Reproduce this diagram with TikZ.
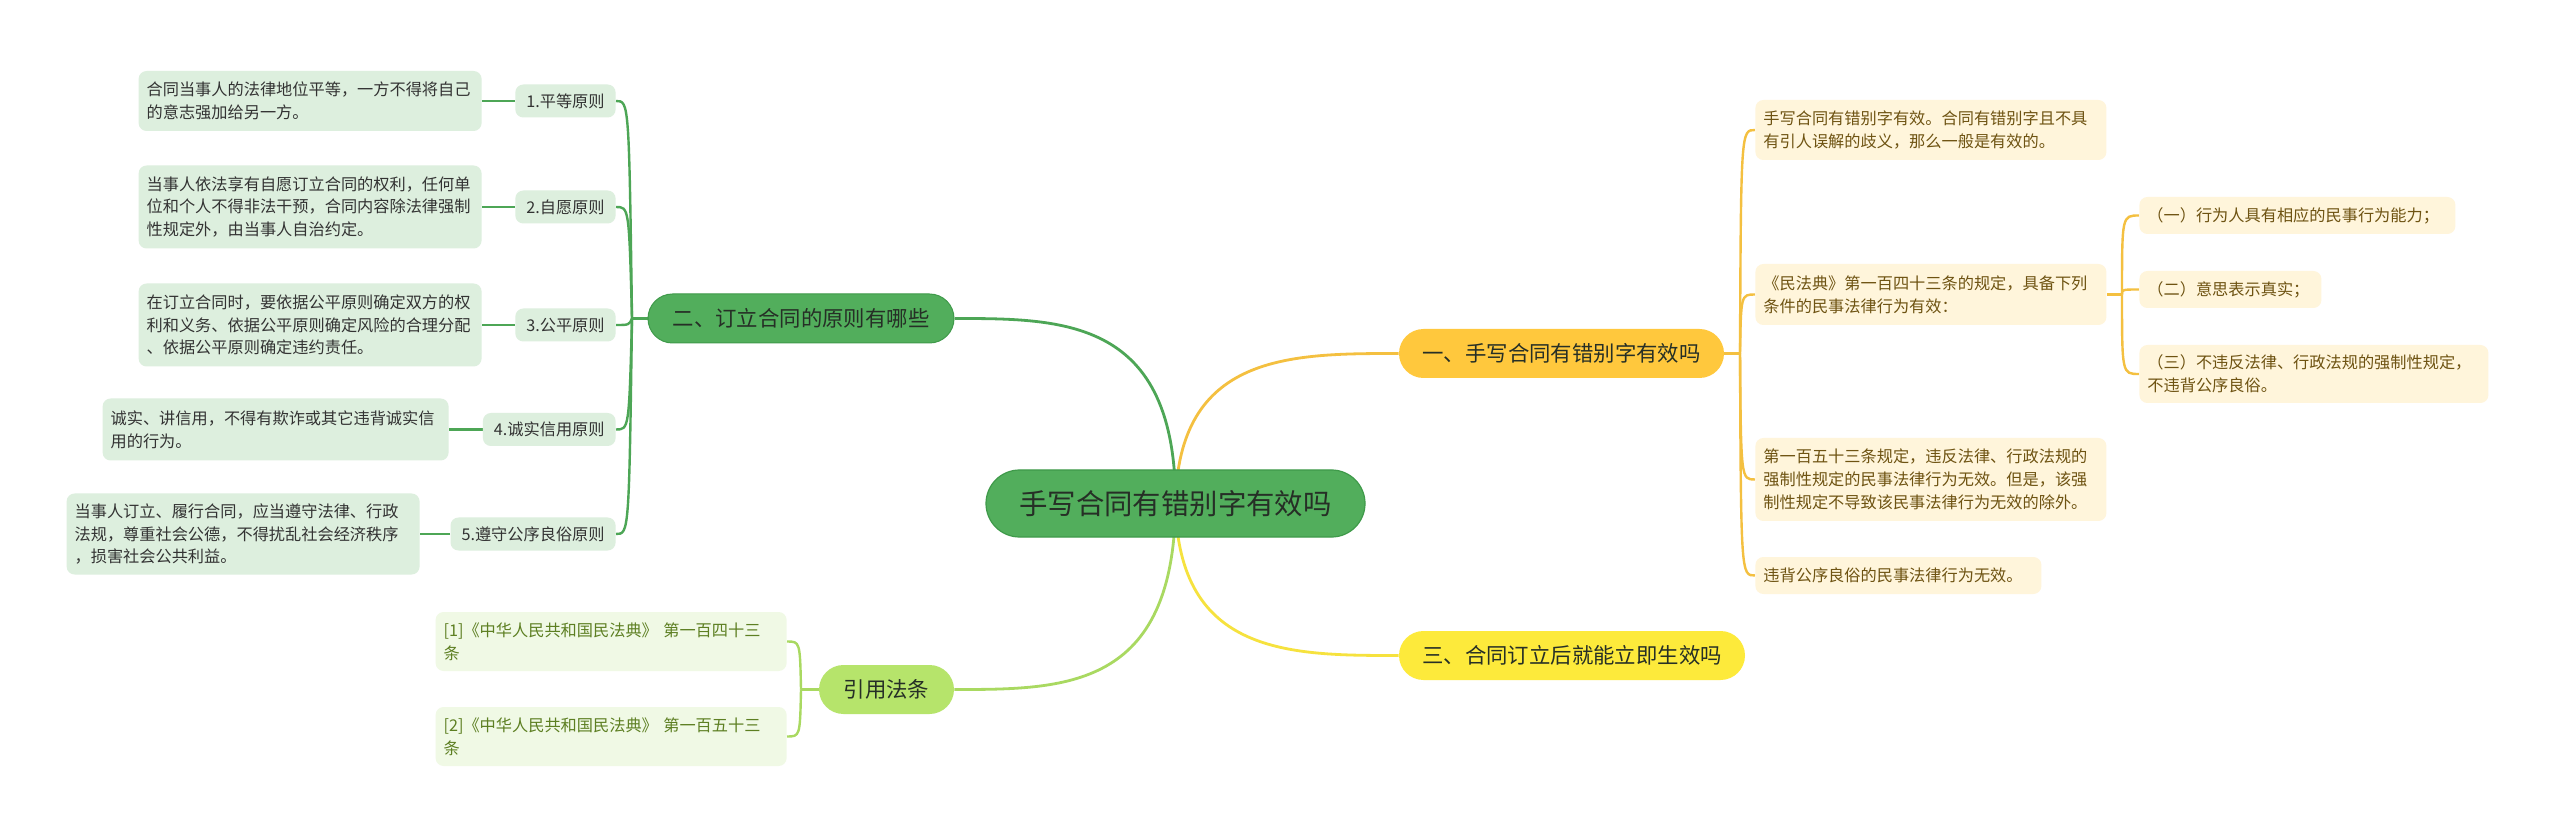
\documentclass[tikz,border=0pt]{standalone}
\usepackage{fontspec}
\setmainfont{Noto Sans CJK SC}
\usetikzlibrary{calc}
\pgfdeclarelayer{bg}
\pgfsetlayers{bg,main}
\definecolor{gmain}{HTML}{52AE5C}
\definecolor{gborder}{HTML}{3F9A4A}
\definecolor{gline}{HTML}{4DA656}
\definecolor{lfill}{HTML}{DDEFDE}
\definecolor{ltext}{HTML}{333333}
\definecolor{amber}{HTML}{FFC83D}
\definecolor{aline}{HTML}{F4C040}
\definecolor{rfill}{HTML}{FFF5DB}
\definecolor{rtext}{HTML}{6E5312}
\definecolor{ymain}{HTML}{FDEA3B}
\definecolor{yline}{HTML}{F6E23E}
\definecolor{lime}{HTML}{B6E46B}
\definecolor{limeline}{HTML}{A9D961}
\definecolor{cfill}{HTML}{F0F9E5}
\definecolor{ctext}{HTML}{5D7F22}
\definecolor{dtext}{HTML}{262F26}
\begin{document}
\begin{tikzpicture}[x=0.5pt,y=-0.5pt,
  base/.style={inner xsep=4pt, inner ysep=0pt, align=left, font=\fontsize{8.1}{11.4}\selectfont, rounded corners=4pt},
  lbox/.style={base, fill=lfill, text=ltext, anchor=east},
  rbox/.style={base, fill=rfill, text=rtext, anchor=west},
  cbox/.style={base, fill=cfill, text=ctext, anchor=east},
  llab/.style={base, fill=lfill, text=ltext, align=center, inner xsep=5.5pt, minimum height=16.5pt, anchor=east},
  slab/.style={base, fill=rfill, text=rtext, anchor=west},
  pill/.style={rounded corners=12.25pt, minimum height=24.5pt, inner sep=0pt, font=\fontsize{10.7}{12}\selectfont, text=dtext},
  mline/.style={line width=1.4pt},
  sline/.style={line width=1.2pt}
]
\useasboundingbox (0,0) rectangle (2560,839);

% central node
\node[rounded corners=16.75pt, minimum width=189.5pt, minimum height=33.5pt, inner sep=0pt,
  fill=gmain, draw=gborder, line width=0.6pt, text=dtext, font=\fontsize{14.2}{16}\selectfont]
  (ctr) at (1175.5,503.5) {手写合同有错别字有效吗};

% main branches
\node[pill, minimum width=153pt, fill=gmain, draw=gborder, line width=0.5pt] (n2) at (801,318.5) {二、订立合同的原则有哪些};
\node[pill, minimum width=162.5pt, fill=amber] (n1) at (1561.5,353.5) {一、手写合同有错别字有效吗};
\node[pill, minimum width=173pt, fill=ymain] (n3) at (1572,655.5) {三、合同订立后就能立即生效吗};
\node[pill, minimum width=67.5pt, fill=lime] (cite) at (886.5,689.5) {引用法条};

% left labels
\node[llab] (L1) at (616,101) {1.平等原则};
\node[llab] (L2) at (616,207) {2.自愿原则};
\node[llab] (L3) at (616,325) {3.公平原则};
\node[llab] (L4) at (616,429.5) {4.诚实信用原则};
\node[llab] (L5) at (616,534) {5.遵守公序良俗原则};

% left text boxes
\node[lbox, text width=163.5pt, minimum height=30pt] (B1) at (482,101) {合同当事人的法律地位平等，一方不得将自己\\的意志强加给另一方。};
\node[lbox, text width=163.5pt, minimum height=41.5pt] (B2) at (482,207) {当事人依法享有自愿订立合同的权利，任何单\\位和个人不得非法干预，合同内容除法律强制\\性规定外，由当事人自治约定。};
\node[lbox, text width=163.5pt, minimum height=41.5pt] (B3) at (482,325) {在订立合同时，要依据公平原则确定双方的权\\利和义务、依据公平原则确定风险的合理分配\\、依据公平原则确定违约责任。};
\node[lbox, text width=165pt, minimum height=31pt] (B4) at (449,429.5) {诚实、讲信用，不得有欺诈或其它违背诚实信\\用的行为。};
\node[lbox, text width=168.5pt, minimum height=40.5pt] (B5) at (420,534) {当事人订立、履行合同，应当遵守法律、行政\\法规，尊重社会公德，不得扰乱社会经济秩序\\，损害社会公共利益。};

% right text boxes
\node[rbox, text width=167.5pt, minimum height=30pt] (R1) at (1755,130) {手写合同有错别字有效。合同有错别字且不具\\有引人误解的歧义，那么一般是有效的。};
\node[rbox, text width=167.5pt, minimum height=30.5pt] (R2) at (1755,294.5) {《民法典》第一百四十三条的规定，具备下列\\条件的民事法律行为有效：};
\node[rbox, text width=167.5pt, minimum height=41.5pt] (R3) at (1755,479.5) {第一百五十三条规定，违反法律、行政法规的\\强制性规定的民事法律行为无效。但是，该强\\制性规定不导致该民事法律行为无效的除外。};
\node[rbox, text width=135pt, minimum height=18.5pt] (R4) at (1755,575.5) {违背公序良俗的民事法律行为无效。};

% sub items
\node[slab, text width=150pt, minimum height=18.5pt] (S1) at (2139,215.5) {（一）行为人具有相应的民事行为能力；};
\node[slab, text width=83pt, minimum height=18.5pt] (S2) at (2139,289.5) {（二）意思表示真实；};
\node[slab, text width=166.5pt, minimum height=29pt] (S3) at (2139,374) {（三）不违反法律、行政法规的强制性规定，\\不违背公序良俗。};

% citations
\node[cbox, text width=167.5pt, minimum height=29.5pt] (C1) at (787,641.5) {[1]《中华人民共和国民法典》~第一百四十三\\条};
\node[cbox, text width=167.5pt, minimum height=29.5pt] (C2) at (787,736.5) {[2]《中华人民共和国民法典》~第一百五十三\\条};

% junctions
\coordinate (j2) at (632,318.5);
\coordinate (j1) at (1740,353.5);
\coordinate (jk) at (2122,294.5);
\coordinate (jc) at (801,689.5);

\begin{pgfonlayer}{bg}
\fill[white] (0,0) rectangle (2560,839);
% main curves
\draw[mline, gline] (ctr.center) .. controls (1176,318.5) and (1064,318.5) .. (n2.east);
\draw[mline, aline] (ctr.center) .. controls (1178,353.5) and (1290,353.5) .. (n1.west);
\draw[mline, yline] (ctr.center) .. controls (1178,655.5) and (1290,655.5) .. (n3.west);
\draw[mline, limeline] (ctr.center) .. controls (1174,689.5) and (1065,689.5) .. (cite.east);
% left bracket
\draw[sline, gline] (n2.west) -- (j2);
\foreach \i in {1,...,5}{
  \draw[sline, gline] (j2) .. controls ($(j2|-L\i.east)+(-3,0)$) and ($(j2|-L\i.east)+(-3,0)$) .. (L\i.east);
  \draw[sline, gline] (L\i.west) -- (B\i.east);
}
% right bracket
\draw[sline, aline] (n1.east) -- (j1);
\foreach \i in {1,...,4}{
  \draw[sline, aline] (j1) .. controls ($(j1|-R\i.west)+(1,0)$) and ($(j1|-R\i.west)+(1,0)$) .. (R\i.west);
}
\draw[sline, aline] (R2.east) -- (jk);
\foreach \i in {1,...,3}{
  \draw[sline, aline] (jk) .. controls ($(jk|-S\i.west)+(0,0)$) and ($(jk|-S\i.west)+(0,0)$) .. (S\i.west);
}
% citation bracket
\draw[sline, limeline] (cite.west) -- (jc);
\foreach \i in {1,2}{
  \draw[sline, limeline] (jc) .. controls ($(jc|-C\i.east)+(-1,0)$) and ($(jc|-C\i.east)+(-1,0)$) .. (C\i.east);
}
\end{pgfonlayer}
\end{tikzpicture}
\end{document}
